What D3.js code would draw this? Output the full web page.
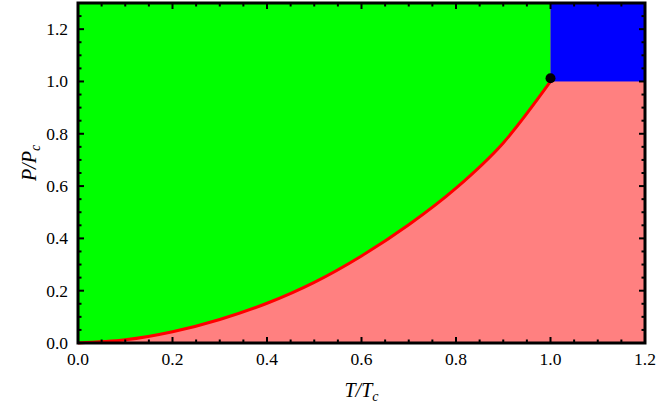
<!DOCTYPE html>
<html>
<head>
<meta charset="utf-8">
<script src="https://cdn.jsdelivr.net/npm/d3@7"></script>
<style>
  body { margin: 0; background: #fff; }
</style>
</head>
<body>
<div id="chart"></div>
<script>
// coexistence curve
const temps = [0, 0.1, 0.2, 0.3, 0.4, 0.5, 0.6, 0.7, 0.8, 0.9, 1.0]
const press = [0, 0.012, 0.043, 0.09, 0.152, 0.232, 0.333, 0.452, 0.592, 0.765, 1.0]
const critical = [1.0, 1.012]
const xTicks = [0, 0.2, 0.4, 0.6, 0.8, 1.0, 1.2]
const yTicks = [0, 0.2, 0.4, 0.6, 0.8, 1.0, 1.2]

const width = 659,
  height = 411,
  margin = {top: 3, right: 14, bottom: 68, left: 78}
const serif = '"Liberation Serif", "Times New Roman", serif'

const svg = d3.select('#chart')
  .append('svg')
  .attr('width', width)
  .attr('height', height)

const x = d3.scaleLinear().domain([0, 1.2]).range([margin.left, width - margin.right])
const y = d3.scaleLinear().domain([0, 1.3]).range([height - margin.bottom, margin.top])

const curve = temps.map((t, i) => [t, press[i]])
const line = d3.line().x(d => x(d[0])).y(d => y(d[1])).curve(d3.curveMonotoneX)

// pink: gas, the whole plot first
svg.append('rect')
  .attr('x', x(0)).attr('y', y(1.3))
  .attr('width', x(1.2) - x(0)).attr('height', y(0) - y(1.3))
  .attr('fill', '#ff8080')

// green: liquid, above the curve for T < 1
svg.append('path')
  .attr('d', line(curve) + 'L' + x(1.0) + ',' + y(1.3) + 'L' + x(0) + ',' + y(1.3) + 'Z')
  .attr('fill', '#00ff00')

// blue: supercritical
svg.append('rect')
  .attr('x', x(1.0)).attr('y', y(1.3))
  .attr('width', x(1.2) - x(1.0)).attr('height', y(1.0) - y(1.3))
  .attr('fill', '#0000ff')

// coexistence line
svg.append('path')
  .datum(curve)
  .attr('fill', 'none')
  .attr('stroke', '#ff0000')
  .attr('stroke-width', 3)
  .attr('d', line)

svg.append('circle')
  .attr('cx', x(critical[0]))
  .attr('cy', y(critical[1]))
  .attr('r', 5)
  .attr('fill', '#000')

// ticks, inward on all four sides
const fmt = d3.format('.1f')
const minorX = d3.range(0, 1.2001, 0.05)
const minorY = d3.range(0, 1.3001, 0.05)

const tk = svg.append('g').attr('stroke', '#000').attr('stroke-width', 2)
minorX.forEach(v => {
  const major = xTicks.some(t => Math.abs(t - v) < 1e-6)
  const len = major ? 6 : 3.5
  tk.append('line').attr('x1', x(v)).attr('x2', x(v)).attr('y1', y(0)).attr('y2', y(0) - len)
  tk.append('line').attr('x1', x(v)).attr('x2', x(v)).attr('y1', y(1.3)).attr('y2', y(1.3) + len)
})
minorY.forEach(v => {
  const major = yTicks.some(t => Math.abs(t - v) < 1e-6)
  const len = major ? 6 : 3.5
  tk.append('line').attr('y1', y(v)).attr('y2', y(v)).attr('x1', x(0)).attr('x2', x(0) + len)
  tk.append('line').attr('y1', y(v)).attr('y2', y(v)).attr('x1', x(1.2)).attr('x2', x(1.2) - len)
})

// frame
svg.append('rect')
  .attr('x', x(0)).attr('y', y(1.3))
  .attr('width', x(1.2) - x(0)).attr('height', y(0) - y(1.3))
  .attr('fill', 'none')
  .attr('stroke', '#000')
  .attr('stroke-width', 3)

// tick labels
svg.append('g').selectAll('text')
  .data(xTicks)
  .enter()
  .append('text')
  .attr('x', d => x(d))
  .attr('y', y(0) + 22)
  .attr('text-anchor', 'middle')
  .attr('font-family', serif)
  .attr('font-size', 17.5)
  .text(d => fmt(d))

svg.append('g').selectAll('text')
  .data(yTicks)
  .enter()
  .append('text')
  .attr('x', x(0) - 10)
  .attr('y', d => y(d) + 6)
  .attr('text-anchor', 'end')
  .attr('font-family', serif)
  .attr('font-size', 17.5)
  .text(d => fmt(d))

// axis titles
const xl = svg.append('text')
  .attr('x', (x(0) + x(1.2)) / 2)
  .attr('y', 397)
  .attr('text-anchor', 'middle')
  .attr('font-family', serif)
  .attr('font-size', 20)
  .attr('font-style', 'italic')
xl.append('tspan').text('T/T')
xl.append('tspan').attr('font-size', 14).attr('dy', 4).text('c')

const yl = svg.append('text')
  .attr('transform', 'translate(36,' + 163 + ') rotate(-90)')
  .attr('text-anchor', 'middle')
  .attr('font-family', serif)
  .attr('font-size', 20)
  .attr('font-style', 'italic')
yl.append('tspan').text('P/P')
yl.append('tspan').attr('font-size', 14).attr('dy', 4).text('c')
</script>
</body>
</html>
